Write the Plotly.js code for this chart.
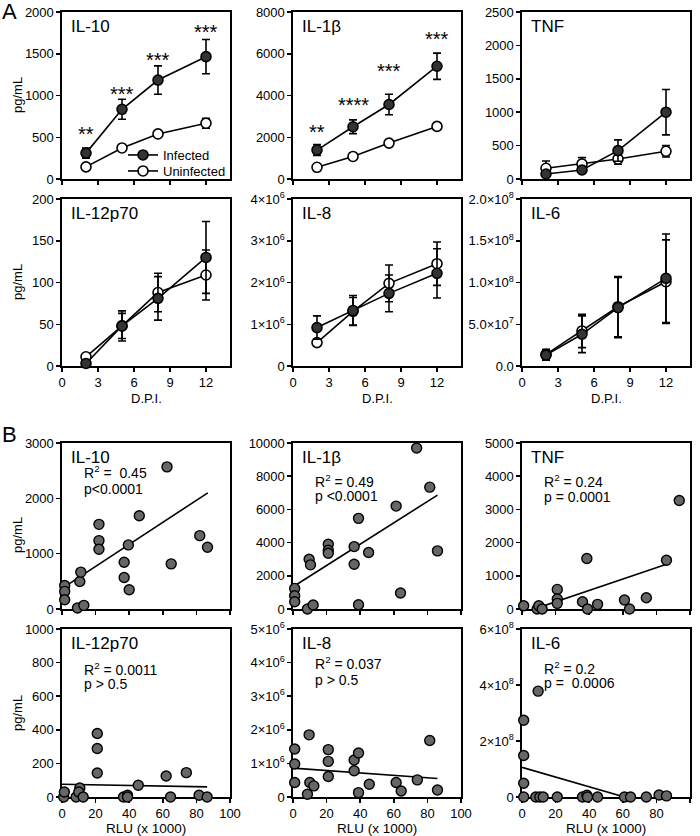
<!DOCTYPE html>
<html><head><meta charset="utf-8">
<script src="https://cdn.plot.ly/plotly-3.0.1.min.js"></script>
<style>body{margin:0;background:#fff}#chart{width:700px;height:836px}</style>
</head><body><div id="chart"></div>
<script>
// ---------- DATA: panel A (time course) ----------
const dpi = [2, 5, 8, 12];
const il10Inf = [310, 835, 1185, 1465];      const il10InfErr = [60, 120, 170, 205];
const il10Uninf = [145, 372, 540, 668];      const il10UninfErr = [15, 20, 20, 60];
const il1bInf = [1386, 2502, 3570, 5402];    const il1bInfErr = [260, 330, 490, 630];
const il1bUninf = [560, 1080, 1720, 2520];   const il1bUninfErr = [60, 80, 90, 100];
const tnfInf = [75, 135, 425, 1000];         const tnfInfErr = [30, 30, 160, 340];
const tnfUninf = [160, 225, 300, 415];       const tnfUninfErr = [110, 95, 80, 85];
const il12Inf = [3, 48, 81, 130];            const il12InfErr = [2, 18, 26, 43];
const il12Uninf = [11, 48, 88, 109];         const il12UninfErr = [4, 15, 23, 30];
const il8Inf = [0.92e6, 1.33e6, 1.74e6, 2.22e6];   const il8InfErr = [0.28e6, 0.36e6, 0.44e6, 0.59e6];
const il8Uninf = [0.56e6, 1.31e6, 1.98e6, 2.45e6]; const il8UninfErr = [0.05e6, 0.33e6, 0.44e6, 0.52e6];
const il6Inf = [1.3e7, 3.8e7, 7.0e7, 1.05e8];      const il6InfErr = [0.6e7, 2.2e7, 3.6e7, 5.3e7];
const il6Uninf = [1.4e7, 4.2e7, 7.1e7, 1.01e8];    const il6UninfErr = [0.6e7, 2.0e7, 3.6e7, 5.0e7];
const il10Stars = ['**', '***', '***', '***'];     const il10StarY = [600, 1080, 1480, 1820];
const il1bStars = ['**', '****', '***', '***'];    const il1bStarY = [2500, 3808, 5418, 6964];
const seriesNames = ['Infected', 'Uninfected'];
const panelNames = ['IL-10', 'IL-1β', 'TNF', 'IL-12p70', 'IL-8', 'IL-6'];

// ---------- DATA: panel B (correlation with RLU x 1000) ----------
const il10Rlu = [1.6,1.6,1.6,9.2,13,10.6,11.2,22,22,22,37,37,40,39.5,46,62.5,65,82,86.6];
const il10Val = [426,318,168,18,66,498,666,1530,1236,1080,846,570,348,1158,1686,2568,816,1326,1116];
const il10FitX = [1, 86.8]; const il10FitY = [390, 2100];
const il1bRlu = [1,1,1,8.6,12,9.6,10.4,21,21,21,36.4,36.4,39,39,45,61.4,64,73.6,81.4,86];
const il1bVal = [1240,800,440,0,240,3000,2660,3900,3540,3360,3760,2700,5460,260,3400,6200,960,9700,7340,3500];
const il1bFitX = [1, 86]; const il1bFitY = [1400, 6860];
const tnfRlu = [1,9,10,12,21,21,21,36,38.6,39,45,61,64,74,86,93.6];
const tnfVal = [100,0,100,0,590,300,170,220,1520,0,140,270,0,340,1470,3270];
const tnfFitX = [8.6, 86]; const tnfFitY = [20, 1350];
const il12Rlu = [1,1.4,8.4,10.6,10,12.6,21,21,21,36.6,39,39,45.4,62,64.6,74,81.6,86.4];
const il12Val = [0,30,0,54,30,0,378,289,143,0,10,0,70,125,0,145,10,0];
const il12FitX = [0, 86.4]; const il12FitY = [76, 60];
const il8Rlu = [1,1,1,8.6,9.6,10,12.4,21,21,21,36.4,36.4,39,39,45.4,61.4,64.4,74,81.4,86];
const il8Val = [1.43e6,0.98e6,0.43e6,0.08e6,1.85e6,0.43e6,0.33e6,1.41e6,1.06e6,0.61e6,1.10e6,0.78e6,1.31e6,0.13e6,0.38e6,0.43e6,0.18e6,0.51e6,1.68e6,0.21e6];
const il8FitX = [0, 86]; const il8FitY = [0.86e6, 0.55e6];
const il6Rlu = [1,1,1,1,9.6,8.2,10.6,12.6,21,36,38.6,39,45,61,64.6,74,81.6,86];
const il6Val = [2.74e8,1.48e8,0.49e8,0,3.78e8,0,0,0,0,0,0.06e8,0,0,0,0,0,0.07e8,0.04e8];
const il6FitX = [0, 61]; const il6FitY = [1.06e8, 0];
const statR2 = ['R<sup>2</sup> =\u00a0 0.45', 'R<sup>2</sup> = 0.49', 'R<sup>2</sup> = 0.24', 'R<sup>2</sup> = 0.0011', 'R<sup>2</sup> = 0.037', 'R<sup>2</sup> = 0.2'];
const statP = ['p<0.0001', 'p <0.0001', 'p = 0.0001', 'p > 0.5', 'p > 0.5', 'p =\u00a0 0.0006'];

// tick labels
const il8ATicks = [0, 1e6, 2e6, 3e6, 4e6];
const il8ATickText = ['0', '1×10<sup>6</sup>', '2×10<sup>6</sup>', '3×10<sup>6</sup>', '4×10<sup>6</sup>'];
const il6ATicks = [0, 5e7, 1e8, 1.5e8, 2e8];
const il6ATickText = ['0.0', '5.0×10<sup>7</sup>', '1.0×10<sup>8</sup>', '1.5×10<sup>8</sup>', '2.0×10<sup>8</sup>'];
const il8BTicks = [0, 1e6, 2e6, 3e6, 4e6, 5e6];
const il8BTickText = ['0', '1×10<sup>6</sup>', '2×10<sup>6</sup>', '3×10<sup>6</sup>', '4×10<sup>6</sup>', '5×10<sup>6</sup>'];
const il6BTicks = [0, 2e8, 4e8, 6e8];
const il6BTickText = ['0', '2×10<sup>8</sup>', '4×10<sup>8</sup>', '6×10<sup>8</sup>'];

// ---------- LAYOUT ----------
const W = 700, H = 836;
const FONT = 'Liberation Sans, Arial, sans-serif';
const cols = [[62, 230], [293, 461], [522, 690]];
const rows = [[12, 179], [199, 366], [443, 609], [629, 797]];
const fx = p => p / W, fy = p => 1 - p / H;

const legendBase = {xanchor: 'left', yanchor: 'top', bgcolor: 'rgba(0,0,0,0)',
  font: {family: FONT, size: 13, color: '#000'}, itemwidth: 30};
const layout = {
  width: W, height: H, margin: {l: 0, r: 0, t: 0, b: 0},
  paper_bgcolor: '#fff', plot_bgcolor: 'rgba(0,0,0,0)',
  font: {family: FONT, color: '#000', size: 13},
  showlegend: true,
  legend: Object.assign({x: fx(123), y: fy(140)}, legendBase),
  legend2: Object.assign({x: fx(123), y: fy(156)}, legendBase),
  annotations: [], shapes: []
};
const traces = [];
const baseAxis = {showline: true, mirror: true, linecolor: '#000', linewidth: 1.6, ticks: 'outside',
  ticklen: 4, tickwidth: 1.5, tickcolor: '#000', showgrid: false, zeroline: false, fixedrange: true,
  layer: 'below traces', tickfont: {family: FONT, size: 13, color: '#000'}};

function axName(i) { return i === 1 ? '' : String(i); }
function makeAxes(i, col, row, xr, xtick, showX, yr, yopts) {
  const n = axName(i);
  layout['xaxis' + n] = Object.assign({}, baseAxis, {domain: [fx(cols[col][0]), fx(cols[col][1])],
    anchor: 'y' + n, range: xr, tickmode: 'linear', tick0: 0, dtick: xtick, showticklabels: showX});
  layout['yaxis' + n] = Object.assign({}, baseAxis, {domain: [fy(rows[row][1]), fy(rows[row][0])],
    anchor: 'x' + n, range: yr, tickformat: 'd'}, yopts);
  layout.annotations.push({xref: 'paper', yref: 'paper', x: fx(cols[col][0] + 7), y: fy(rows[row][0] + 3),
    xanchor: 'left', yanchor: 'top', showarrow: false, text: panelNames[(i - 1) % 6],
    font: {family: FONT, size: 17, color: '#000'}});
}

const ySpecsA = [
  [[0, 2000], {dtick: 500}], [[0, 8000], {dtick: 2000}], [[0, 2500], {dtick: 500}],
  [[0, 200], {dtick: 50}], [[0, 4e6], {tickmode: 'array', tickvals: il8ATicks, ticktext: il8ATickText}],
  [[0, 2e8], {tickmode: 'array', tickvals: il6ATicks, ticktext: il6ATickText}]
];
const ySpecsB = [
  [[0, 3000], {dtick: 1000}], [[0, 10000], {dtick: 2000}], [[0, 5000], {dtick: 1000}],
  [[0, 1000], {dtick: 200}], [[0, 5e6], {tickmode: 'array', tickvals: il8BTicks, ticktext: il8BTickText}],
  [[0, 6e8], {tickmode: 'array', tickvals: il6BTicks, ticktext: il6BTickText}]
];

const seriesA = [
  [il10Inf, il10InfErr, il10Uninf, il10UninfErr],
  [il1bInf, il1bInfErr, il1bUninf, il1bUninfErr],
  [tnfInf, tnfInfErr, tnfUninf, tnfUninfErr],
  [il12Inf, il12InfErr, il12Uninf, il12UninfErr],
  [il8Inf, il8InfErr, il8Uninf, il8UninfErr],
  [il6Inf, il6InfErr, il6Uninf, il6UninfErr]
];
const seriesB = [
  [il10Rlu, il10Val, il10FitX, il10FitY], [il1bRlu, il1bVal, il1bFitX, il1bFitY],
  [tnfRlu, tnfVal, tnfFitX, tnfFitY], [il12Rlu, il12Val, il12FitX, il12FitY],
  [il8Rlu, il8Val, il8FitX, il8FitY], [il6Rlu, il6Val, il6FitX, il6FitY]
];
const statOff = [[29, 46], [38, 53], [38, 54], [40, 55], [34, 51], [39, 54]];

// Panel A
for (let k = 0; k < 6; k++) {
  const i = k + 1, n = axName(i), col = k % 3, row = Math.floor(k / 3);
  makeAxes(i, col, row, [0, 14], 3, row === 1, ySpecsA[k][0], ySpecsA[k][1]);
  const [inf, infE, un, unE] = seriesA[k];
  traces.push({type: 'scatter', mode: 'lines+markers', x: dpi, y: un, xaxis: 'x' + n, yaxis: 'y' + n,
    name: seriesNames[1], showlegend: k === 0, legend: 'legend2', cliponaxis: false,
    line: {color: '#000', width: 1.6},
    marker: {symbol: 'circle', size: 10, color: '#fff', line: {color: '#000', width: 1.6}},
    error_y: {type: 'data', array: unE, visible: true, color: '#000', thickness: 1.6, width: 4}});
  traces.push({type: 'scatter', mode: 'lines+markers', x: dpi, y: inf, xaxis: 'x' + n, yaxis: 'y' + n,
    name: seriesNames[0], showlegend: k === 0, legend: 'legend', cliponaxis: false,
    line: {color: '#000', width: 1.6},
    marker: {symbol: 'circle', size: 10, color: '#333', line: {color: '#000', width: 1.6}},
    error_y: {type: 'data', array: infE, visible: true, color: '#000', thickness: 1.6, width: 4}});
}
const starSets = [[il10Stars, il10StarY, ''], [il1bStars, il1bStarY, '2']];
starSets.forEach(([txt, ys, n]) => {
  dpi.forEach((d, j) => layout.annotations.push({xref: 'x' + n, yref: 'y' + n, x: d, y: ys[j],
    text: txt[j], showarrow: false, yshift: -5, font: {family: FONT, size: 20, color: '#000'}}));
});

// Panel B
for (let k = 0; k < 6; k++) {
  const i = k + 7, n = axName(i), col = k % 3, row = 2 + Math.floor(k / 3);
  makeAxes(i, col, row, [0, 100], 20, row === 3, ySpecsB[k][0], ySpecsB[k][1]);
  const [rx, ry, fitx, fity] = seriesB[k];
  traces.push({type: 'scatter', mode: 'lines', x: fitx, y: fity, xaxis: 'x' + n, yaxis: 'y' + n,
    showlegend: false, line: {color: '#000', width: 1.6}});
  traces.push({type: 'scatter', mode: 'markers', x: rx, y: ry, xaxis: 'x' + n, yaxis: 'y' + n,
    showlegend: false, cliponaxis: false,
    marker: {symbol: 'circle', size: 10, color: '#666', line: {color: '#000', width: 1.4}}});
  layout.annotations.push({xref: 'paper', yref: 'paper', x: fx(cols[col][0] + 20), y: fy(rows[row][0] + statOff[k][0]),
    xanchor: 'left', yanchor: 'middle', showarrow: false, text: statR2[k], font: {family: FONT, size: 14, color: '#000'}});
  layout.annotations.push({xref: 'paper', yref: 'paper', x: fx(cols[col][0] + 20), y: fy(rows[row][0] + statOff[k][1]),
    xanchor: 'left', yanchor: 'middle', showarrow: false, text: statP[k], font: {family: FONT, size: 14, color: '#000'}});
}

// axis titles and panel letters
const ylabRows = [95, 282, 535, 713];
ylabRows.forEach(yc => layout.annotations.push({xref: 'paper', yref: 'paper', x: fx(17), y: fy(yc),
  xanchor: 'center', yanchor: 'middle', textangle: -90, showarrow: false, text: 'pg/mL',
  font: {family: FONT, size: 13, color: '#000'}}));
cols.forEach(c => {
  layout.annotations.push({xref: 'paper', yref: 'paper', x: fx((c[0] + c[1]) / 2), y: fy(398),
    xanchor: 'center', yanchor: 'middle', showarrow: false, text: 'D.P.I.', font: {family: FONT, size: 13, color: '#000'}});
  layout.annotations.push({xref: 'paper', yref: 'paper', x: fx((c[0] + c[1]) / 2), y: fy(828),
    xanchor: 'center', yanchor: 'middle', showarrow: false, text: 'RLU (x 1000)', font: {family: FONT, size: 13.5, color: '#000'}});
});
[['A', 11], ['B', 434]].forEach(([t, y]) => layout.annotations.push({xref: 'paper', yref: 'paper',
  x: fx(0), y: fy(y), xanchor: 'left', yanchor: 'middle', showarrow: false, text: t,
  font: {family: FONT, size: 22, color: '#000'}}));

Plotly.newPlot('chart', traces, layout, {staticPlot: true, displayModeBar: false});
</script></body></html>
